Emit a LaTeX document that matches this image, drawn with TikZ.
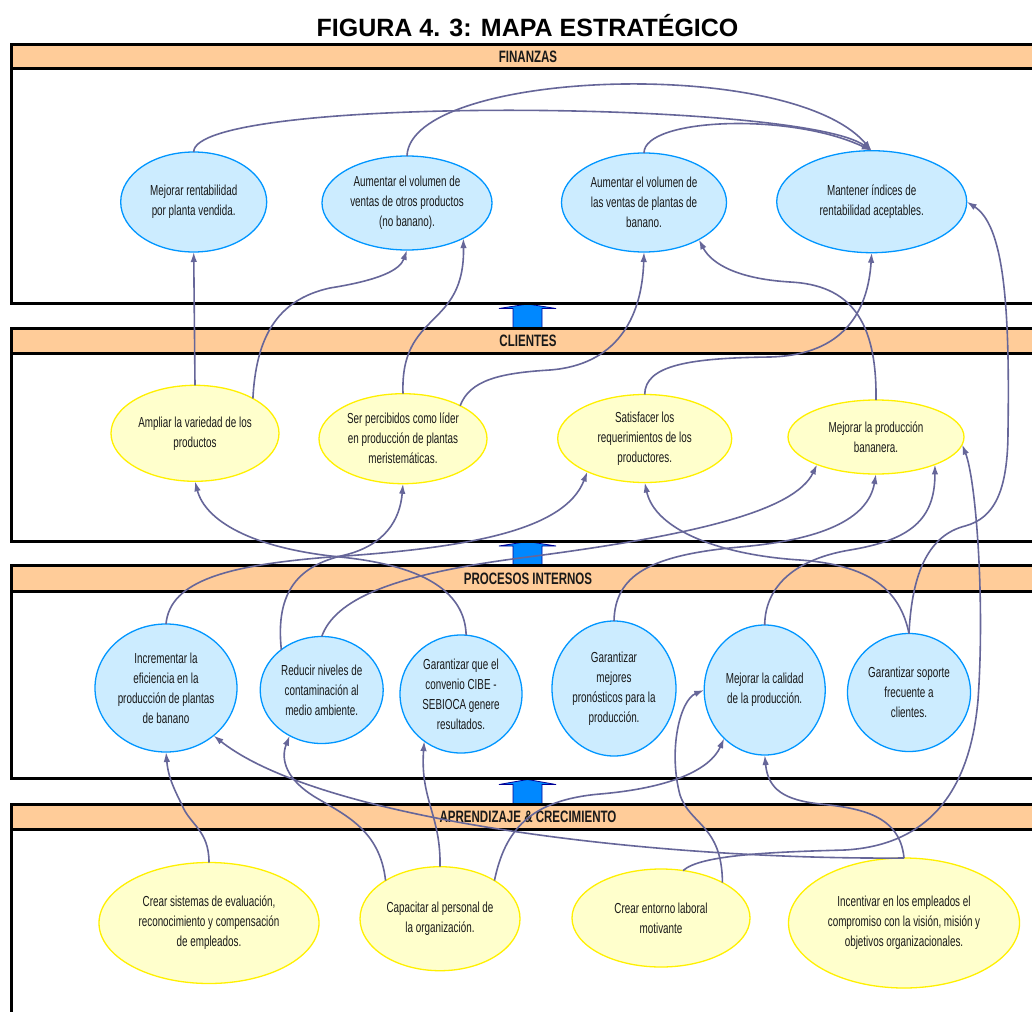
\documentclass[tikz,border=0pt]{standalone}
\usepackage{fontspec}
\setmainfont{Liberation Sans}
\newfontfamily\narrowsans[FakeStretch=0.68]{Liberation Sans}
\newfontfamily\headsans[FakeStretch=0.70]{Liberation Sans}
\usetikzlibrary{shapes.geometric,arrows.meta}

\definecolor{bandc}{RGB}{255,204,153}
\definecolor{bluefill}{RGB}{204,236,255}
\definecolor{blueline}{RGB}{0,150,255}
\definecolor{yellowfill}{RGB}{255,255,204}
\definecolor{yellowline}{RGB}{255,240,0}
\definecolor{linkc}{RGB}{102,102,153}
\definecolor{arrowfill}{RGB}{0,136,255}
\definecolor{arrowline}{RGB}{0,0,150}
\definecolor{txtc}{RGB}{25,25,25}

\begin{document}
\begin{tikzpicture}[x=1pt,y=-1pt,
  frame/.style={draw=black,line width=3pt},
  headtext/.style={font=\headsans\bfseries\fontsize{16.5}{20}\selectfont,text=txtc,inner sep=0pt},
  obj/.style={ellipse,inner sep=0pt,outer sep=0pt,line width=1.3pt,align=center,text=txtc,
    font=\narrowsans\fontsize{14.5}{20}\selectfont},
  objblue/.style={obj,draw=blueline,fill=bluefill},
  objyellow/.style={obj,draw=yellowline,fill=yellowfill},
  link/.style={draw=linkc,line width=1.6pt,-{Latex[length=10pt,width=6.5pt]}},
  blockarrow/.style={fill=arrowfill,draw=arrowline,line width=0.8pt,line join=miter}
]
\useasboundingbox (0,0) rectangle (1032,1011);
\clip (0,0) rectangle (1032,1011);
\fill[white] (0,0) rectangle (1032,1011);

% title
\node[font=\bfseries\fontsize{25}{30}\selectfont,anchor=base,inner sep=0pt,text=black] (title) at (527.5,37) {FIGURA 4. 3: MAPA ESTRATÉGICO};

% header bands of the four perspectives
\fill[bandc] (11,44.5) rectangle (1045,69);
\fill[bandc] (11,328.5) rectangle (1045,353.5);
\fill[bandc] (11,565.5) rectangle (1045,591.5);
\fill[bandc] (11,804) rectangle (1045,829);

% block arrows between perspectives
\draw[blockarrow] (527.5,304) -- (556,308.5) -- (542,308.5) -- (542,328.5) -- (513,328.5) -- (513,308.5) -- (499,308.5) -- cycle;
\draw[blockarrow] (527.5,541.5) -- (556,546) -- (542,546) -- (542,565.5) -- (513,565.5) -- (513,546) -- (499,546) -- cycle;
\draw[blockarrow] (527.5,779.5) -- (556,784.5) -- (542,784.5) -- (542,804) -- (513,804) -- (513,784.5) -- (499,784.5) -- cycle;

% perspective frames
\draw[frame] (11,44.5) rectangle (1045,303);
\draw[frame] (11,69) -- (1045,69);
\draw[frame] (11,328.5) rectangle (1045,541.5);
\draw[frame] (11,353.5) -- (1045,353.5);
\draw[frame] (11,565.5) rectangle (1045,778.5);
\draw[frame] (11,591.5) -- (1045,591.5);
\draw[frame] (11,804) rectangle (1045,1030);
\draw[frame] (11,829) -- (1045,829);

\node[headtext] (hfin) at (528,57) {FINANZAS};
\node[headtext] (hcli) at (528,341) {CLIENTES};
\node[headtext] (hpro) at (528,578.5) {PROCESOS INTERNOS};
\node[headtext] (hapr) at (528,816.5) {APRENDIZAJE \& CRECIMIENTO};

% finanzas
\node[objblue,minimum width=146,minimum height=100] (F1) at (193.7,202) {Mejorar rentabilidad\\por planta vendida.};
\node[objblue,minimum width=170,minimum height=94] (F2) at (407,203) {Aumentar el volumen de\\ventas de otros productos\\(no banano).};
\node[objblue,minimum width=165,minimum height=99] (F3) at (644,202.5) {Aumentar el volumen de\\las ventas de plantas de\\banano.};
\node[objblue,minimum width=190,minimum height=102] (F4) at (871.7,201.7) {Mantener índices de\\rentabilidad aceptables.};

% clientes
\node[objyellow,minimum width=168,minimum height=96] (C1) at (195,433.3) {Ampliar la variedad de los\\productos};
\node[objyellow,minimum width=168,minimum height=90] (C2) at (403,438.7) {Ser percibidos como líder\\en producción de plantas\\meristemáticas.};
\node[objyellow,minimum width=174,minimum height=88] (C3) at (644.7,438.5) {Satisfacer los\\requerimientos de los\\productores.};
\node[objyellow,minimum width=176,minimum height=74] (C4) at (876,437) {Mejorar la producción\\bananera.};

% procesos internos
\node[objblue,minimum width=142,minimum height=128] (P1) at (166,688) {Incrementar la\\eficiencia en la\\producción de plantas\\de banano};
\node[objblue,minimum width=123,minimum height=107] (P2) at (321.7,690) {Reducir niveles de\\contaminación al\\medio ambiente.};
\node[objblue,minimum width=122,minimum height=118] (P3) at (461,694) {Garantizar que el\\convenio CIBE -\\SEBIOCA genere\\resultados.};
\node[objblue,minimum width=124,minimum height=135] (P4) at (614,688.5) {Garantizar\\mejores\\pronósticos para la\\producción.};
\node[objblue,minimum width=121,minimum height=130] (P5) at (764.7,690) {Mejorar la calidad\\de la producción.};
\node[objblue,minimum width=123,minimum height=118] (P6) at (909,692.5) {Garantizar soporte\\frecuente a\\clientes.};

% aprendizaje y crecimiento
\node[objyellow,minimum width=220,minimum height=121] (A1) at (209,923) {Crear sistemas de evaluación,\\reconocimiento y compensación\\de empleados.};
\node[objyellow,minimum width=160,minimum height=104] (A2) at (440,918.7) {Capacitar al personal de\\la organización.};
\node[objyellow,minimum width=178,minimum height=98] (A3) at (661,918) {Crear entorno laboral\\motivante};
\node[objyellow,minimum width=231,minimum height=130] (A4) at (904,923) {Incentivar en los empleados el\\compromiso con la visión, misión y\\objetivos organizacionales.};

% links inside finanzas
\draw[link] (F1.north) .. controls (193.7,95) and (800,100) .. (F4.north);
\draw[link] (F2.north) .. controls (410,70) and (790,55) .. (F4.north);
\draw[link] (F3.north) .. controls (644,118) and (790,112) .. (F4.north);

% clientes -> finanzas
\draw[link] (C1.north) -- (F1.south);
\draw[link] (C1.31) .. controls (256,340) and (275,300) .. (330,288) .. controls (380,280) and (400,270) .. (F2.south);
\draw[link] (C2.north) .. controls (400,310) and (465,330) .. (F2.-32);
\draw[link] (C2.30) .. controls (470,380) and (500,373) .. (550,370) .. controls (615,365) and (642,320) .. (F3.south);
\draw[link] (C3.north) .. controls (645,365) and (690,358) .. (770,357) .. controls (845,355) and (868,310) .. (F4.south);
\draw[link] (C4.north) .. controls (877,320) and (850,285) .. (790,282) .. controls (740,279) and (712,265) .. (F3.-34);

% procesos -> clientes / finanzas
\draw[link] (P1.north) .. controls (170,580) and (230,565) .. (330,557) .. controls (470,548) and (565,530) .. (C3.-150);
\draw[link] (P2.north) .. controls (335,600) and (390,575) .. (520,558) .. controls (700,535) and (795,510) .. (C4.-155);
\draw[link] (P2.135) .. controls (275,590) and (300,565) .. (345,555) .. controls (385,545) and (400,520) .. (C2.south);
\draw[link] (P3.85) .. controls (465,590) and (420,565) .. (340,557) .. controls (250,548) and (205,520) .. (C1.south);
\draw[link] (P4.north) .. controls (615,575) and (650,555) .. (740,547) .. controls (820,540) and (868,520) .. (C4.south);
\draw[link] (P5.north) .. controls (765,590) and (790,560) .. (850,550) .. controls (910,540) and (935,520) .. (C4.-25);
\draw[link] (P6.north) .. controls (900,590) and (870,565) .. (800,560) .. controls (720,555) and (655,530) .. (C3.south);
\draw[link] (P6.north) .. controls (912,570) and (930,535) .. (965,526) .. controls (995,518) and (1008,490) .. (1008,430) .. controls (1010,300) and (1003,225) .. (F4.east);

% aprendizaje -> procesos / clientes
\draw[link] (A1.north) .. controls (209,830) and (190,825) .. (182,805) .. controls (172,785) and (168,775) .. (P1.south);
\draw[link] (A2.145) .. controls (380,830) and (345,815) .. (315,797) .. controls (287,780) and (280,760) .. (P2.-125);
\draw[link] (A2.north) .. controls (441,815) and (420,800) .. (P3.-128);
\draw[link] (A2.35) .. controls (505,830) and (530,800) .. (600,794) .. controls (670,788) and (710,770) .. (P5.-130);
\draw[link] (A3.30) .. controls (722,825) and (690,825) .. (680,795) .. controls (668,750) and (680,700) .. (P5.west);
\draw[link] (A3.65) .. controls (700,855) and (770,852) .. (845,850) .. controls (930,845) and (970,790) .. (978,700) .. controls (985,600) and (976,480) .. (C4.-5);
\draw[link] (A4.north) .. controls (650,860) and (320,820) .. (P1.-45);
\draw[link] (A4.north) .. controls (900,815) and (860,808) .. (820,804) .. controls (785,800) and (768,790) .. (P5.south);
\end{tikzpicture}
\end{document}
